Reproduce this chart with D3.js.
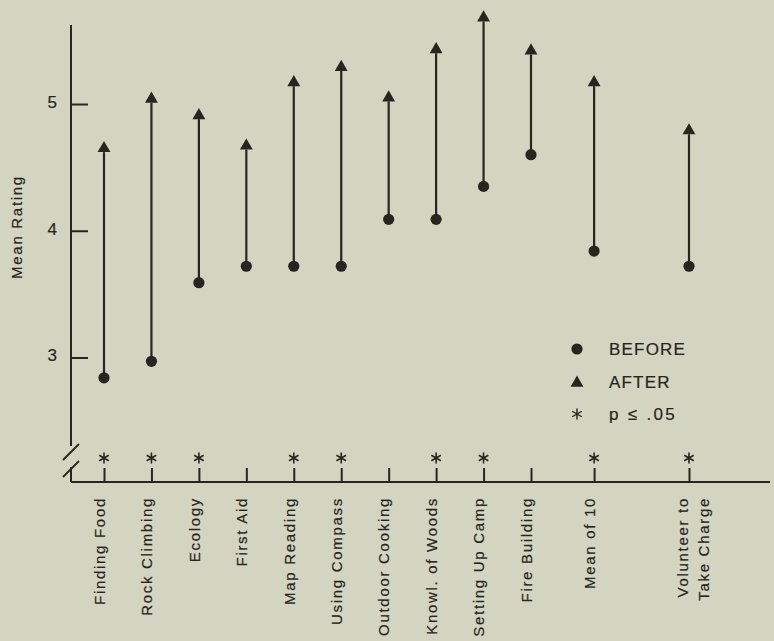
<!DOCTYPE html>
<html>
<head>
<meta charset="utf-8">
<script src="https://cdn.jsdelivr.net/npm/d3@7"></script>
<style>
  body { margin: 0; background: #d3d5c1; }
  svg { display: block; }
  text { font-family: "Liberation Sans", Arial, sans-serif; fill: #26251f; stroke: #26251f; stroke-width: 0.2px; }
</style>
</head>
<body>
<svg id="canvas" width="774" height="641"></svg>
<script>
// chart data
let categories = ['Finding Food', 'Rock Climbing', 'Ecology', 'First Aid', 'Map Reading',
    'Using Compass', 'Outdoor Cooking', 'Knowl. of Woods', 'Setting Up Camp', 'Fire Building',
    'Mean of 10', 'Volunteer to|Take Charge']
let slots = [0, 1, 2, 3, 4, 5, 6, 7, 8, 9, 10.33, 12.33]
let before = [2.84, 2.97, 3.59, 3.72, 3.72, 3.72, 4.09, 4.09, 4.35, 4.60, 3.84, 3.72]
let after = [4.65, 5.04, 4.91, 4.67, 5.17, 5.29, 5.05, 5.43, 5.68, 5.42, 5.17, 4.79]
let significant = [true, true, true, false, true, true, false, true, true, false, true, true]
let yTicks = [3, 4, 5]

let ink = '#26251f'
let canvas = d3.select('#canvas')

let xScale = d3.scaleLinear().domain([0, 9]).range([104, 531])
let yScale = d3.scaleLinear().domain([3, 5]).range([357.5, 104])

let axisX = 71
let axisY = 482

let rows = categories.map((c, i) => {
    return { name: c, slot: slots[i], before: before[i], after: after[i], sig: significant[i] }
})

// y axis with break
canvas.append('path')
    .attr('d', 'M' + axisX + ',25 L' + axisX + ',446 M' + axisX + ',467 L' + axisX + ',' + axisY)
    .attr('stroke', ink).attr('stroke-width', 2).attr('fill', 'none')
canvas.append('path')
    .attr('d', 'M63,460 L79,444 M63,477 L79,461')
    .attr('stroke', ink).attr('stroke-width', 1.8).attr('fill', 'none')

let yAxis = d3.axisLeft(yScale)
    .tickValues(yTicks)
    .tickFormat(d3.format('d'))
    .tickSizeInner(-17)
    .tickSizeOuter(0)
    .tickPadding(14)

let gy = canvas.append('g')
    .attr('transform', 'translate(' + axisX + ',0)')
    .call(yAxis)
gy.select('.domain').remove()
gy.selectAll('line').attr('stroke', ink).attr('stroke-width', 2)
gy.selectAll('text')
    .style('font-size', '17px')
    .style('font-family', '"Liberation Sans", Arial, sans-serif')
    .attr('fill', ink)
    .attr('dy', '0.2em')

canvas.append('text')
    .attr('transform', 'translate(22,227) rotate(-90)')
    .attr('text-anchor', 'middle')
    .style('font-size', '15px')
    .style('letter-spacing', '1.7px')
    .text('Mean Rating')

// x axis
canvas.append('line')
    .attr('x1', axisX).attr('x2', 770)
    .attr('y1', axisY).attr('y2', axisY)
    .attr('stroke', ink).attr('stroke-width', 2)

let xAxis = d3.axisBottom(xScale)
    .tickValues(slots)
    .tickFormat((d, i) => categories[i])
    .tickSizeInner(-14)
    .tickSizeOuter(0)

let gx = canvas.append('g')
    .attr('transform', 'translate(0,' + axisY + ')')
    .call(xAxis)
gx.select('.domain').remove()
gx.selectAll('line').attr('stroke', ink).attr('stroke-width', 2)

gx.selectAll('.tick text')
    .attr('y', null)
    .attr('dy', null)
    .attr('transform', 'rotate(-90)')
    .style('text-anchor', 'end')
    .style('font-size', '15px')
    .style('letter-spacing', '1.7px')
    .style('font-family', '"Liberation Sans", Arial, sans-serif')
    .attr('fill', ink)
    .each(function (d, i) {
        let t = d3.select(this)
        let lines = categories[i].split('|')
        t.text(null)
        if (lines.length === 1) {
            t.append('tspan').attr('x', -15).attr('y', -5).attr('dy', '0.35em').text(lines[0])
        } else {
            t.append('tspan').attr('x', -15).attr('y', -7).attr('dy', '0.35em').text(lines[0])
            t.append('tspan').attr('x', -15).attr('y', 14).attr('dy', '0.35em').text(lines[1])
        }
    })

// significance asterisks
let asterisk = d3.symbol().type(d3.symbolAsterisk).size(85)
canvas.selectAll('.sig')
    .data(rows.filter(r => r.sig))
    .enter()
    .append('path')
    .attr('class', 'sig')
    .attr('d', asterisk)
    .attr('transform', r => 'translate(' + xScale(r.slot) + ',458)')
    .attr('stroke', ink).attr('stroke-width', 1.6).attr('fill', 'none')

// stems
let triangle = d3.symbol().type(d3.symbolTriangle).size(72)
let triR = Math.sqrt(72 / (Math.sqrt(3) * 3))

canvas.selectAll('.stem')
    .data(rows)
    .enter()
    .append('line')
    .attr('class', 'stem')
    .attr('x1', r => xScale(r.slot))
    .attr('x2', r => xScale(r.slot))
    .attr('y1', r => yScale(r.before))
    .attr('y2', r => yScale(r.after) + triR)
    .attr('stroke', ink).attr('stroke-width', 2.2)

canvas.selectAll('.before')
    .data(rows)
    .enter()
    .append('circle')
    .attr('class', 'before')
    .attr('cx', r => xScale(r.slot))
    .attr('cy', r => yScale(r.before))
    .attr('r', 5.6)
    .attr('fill', ink)

canvas.selectAll('.after')
    .data(rows)
    .enter()
    .append('path')
    .attr('class', 'after')
    .attr('d', triangle)
    .attr('transform', r => 'translate(' + xScale(r.slot) + ',' + yScale(r.after) + ')')
    .attr('fill', ink)

// legend
let legend = canvas.append('g').attr('transform', 'translate(577,349)')
legend.append('circle').attr('r', 5.6).attr('fill', ink)
legend.append('path').attr('d', triangle).attr('transform', 'translate(0,34)').attr('fill', ink)
legend.append('path').attr('d', asterisk).attr('transform', 'translate(0,65)')
    .attr('stroke', ink).attr('stroke-width', 1.4).attr('fill', 'none')

let legendText = ['BEFORE', 'AFTER', 'p \u2264 .05']
legend.selectAll('.lt')
    .data(legendText)
    .enter()
    .append('text')
    .attr('class', 'lt')
    .attr('x', 32)
    .attr('y', (d, i) => [0, 33, 65][i])
    .attr('dy', '0.36em')
    .style('font-size', '17px')
    .style('letter-spacing', (d, i) => i === 2 ? '2.3px' : '1.2px')
    .text(d => d)
</script>
</body>
</html>
